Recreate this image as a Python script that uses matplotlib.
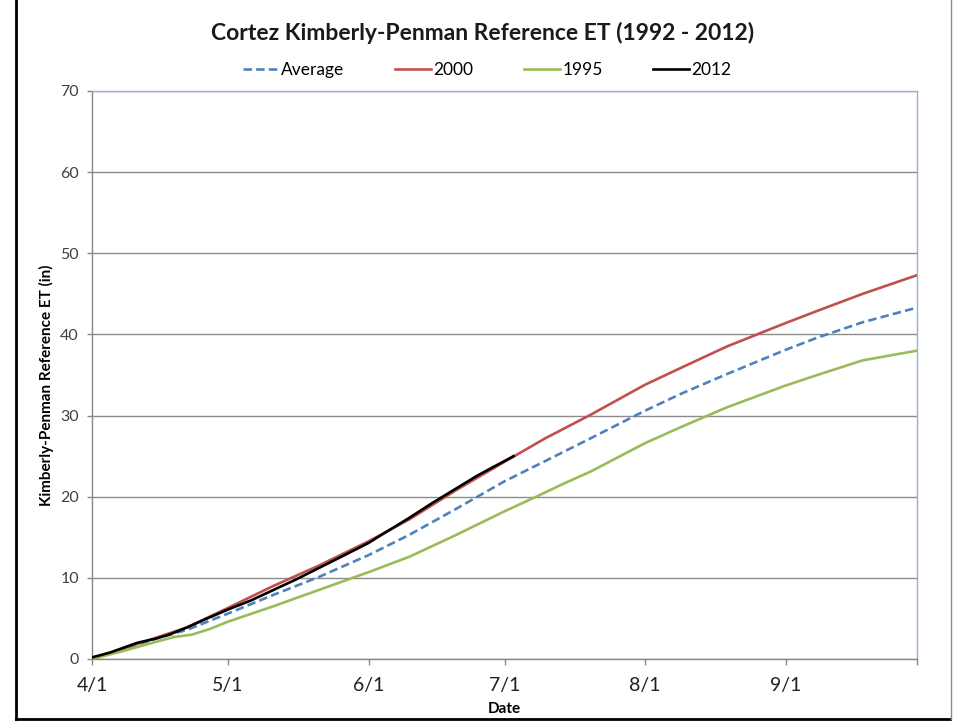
import matplotlib
matplotlib.use("Agg")
import matplotlib.pyplot as plt
import pandas as pd
from matplotlib.lines import Line2D

plt.rcParams['font.family'] = ['Lato', 'DejaVu Sans']

YEAR = "2012"

# Cumulative reference ET (inches) by date
avg_dates = ["4/1", "4/8", "4/15", "4/22", "5/1", "5/11", "5/21", "6/1", "6/10", "6/20",
             "7/1", "7/10", "7/20", "8/1", "8/9", "8/19", "9/1", "9/8", "9/18", "9/30"]
avg_vals = [0.0, 1.2, 2.5, 3.6, 5.6, 7.9, 10.1, 12.8, 15.3, 18.4,
            21.9, 24.4, 27.2, 30.6, 32.7, 35.1, 38.1, 39.6, 41.5, 43.3]

y2000_dates = avg_dates
y2000_vals = [0.0, 1.3, 2.6, 3.9, 6.3, 9.0, 11.5, 14.5, 17.2, 20.7,
              24.3, 27.2, 30.1, 33.8, 35.9, 38.5, 41.4, 42.9, 45.0, 47.3]

y1995_dates = ["4/1", "4/8", "4/15", "4/19", "4/23", "4/27", "5/1", "5/11", "5/21", "6/1",
               "6/10", "6/20", "7/1", "7/8", "7/14", "7/20", "8/1", "8/9", "8/19", "9/1",
               "9/8", "9/18", "9/30"]
y1995_vals = [0.0, 1.0, 2.1, 2.7, 3.0, 3.7, 4.6, 6.5, 8.5, 10.7,
              12.6, 15.2, 18.2, 20.0, 21.6, 23.1, 26.6, 28.6, 31.0, 33.7,
              35.0, 36.8, 38.0]

y2012_dates = ["4/1", "4/5", "4/8", "4/11", "4/15", "4/18", "4/22", "4/26", "5/1", "5/6",
               "5/11", "5/16", "5/21", "5/26", "6/1", "6/3", "6/10", "6/15", "6/20", "6/25",
               "6/30", "7/3"]
y2012_vals = [0.2, 0.8, 1.4, 2.0, 2.5, 3.0, 3.9, 4.9, 6.1, 7.2,
              8.5, 9.8, 11.2, 12.6, 14.3, 15.0, 17.4, 19.2, 20.9, 22.6,
              24.1, 25.0]

month_ticks = ["4/1", "5/1", "6/1", "7/1", "8/1", "9/1"]
y_ticks = [0, 10, 20, 30, 40, 50, 60, 70]


def to_dates(labels):
    return pd.to_datetime([f"{YEAR}/{s}" for s in labels], format="%Y/%m/%d")


fig = plt.figure(figsize=(9.61, 7.25), dpi=100)
ax = fig.add_axes([92 / 961, 66 / 725, 825 / 961, 568 / 725])

blue, red, green = "#4F81BD", "#C0504D", "#9BBB59"
lw = 1.9

ax.plot(to_dates(avg_dates), avg_vals, color=blue, lw=lw, ls=(0, (3.2, 1.6)),
        label="Average", zorder=3)
ax.plot(to_dates(y2000_dates), y2000_vals, color=red, lw=lw, label="2000", zorder=3)
ax.plot(to_dates(y1995_dates), y1995_vals, color=green, lw=lw, label="1995", zorder=3)
ax.plot(to_dates(y2012_dates), y2012_vals, color="black", lw=lw, label="2012", zorder=4)

ax.set_xlim(to_dates(["4/1"])[0], to_dates(["9/30"])[0])
ax.set_ylim(0, 70)

tick_dates = to_dates(month_ticks)
ax.set_xticks(tick_dates)
ax.set_xticklabels(month_ticks, fontsize=14, color="#202020")
ax.set_xticks([to_dates(["9/30"])[0]], minor=True)
ax.set_yticks(y_ticks)
ax.set_yticklabels([str(v) for v in y_ticks], fontsize=11.5, color="#404040")

ax.tick_params(axis="x", which="both", direction="out", length=4, width=1,
               color="#868686", pad=9)
ax.tick_params(axis="y", direction="out", length=3.6, width=1, color="#868686", pad=5.8)

ax.grid(axis="y", color="#8C8C8C", lw=1)
ax.set_axisbelow(True)

for side in ("left", "bottom"):
    ax.spines[side].set_color("#868686")
    ax.spines[side].set_linewidth(1)
for side in ("top", "right"):
    ax.spines[side].set_color("#95B3D7")
    ax.spines[side].set_linewidth(1)

ax.set_xlabel("Date", fontsize=11, fontweight="bold", labelpad=6)
ax.set_ylabel("Kimberly-Penman Reference ET (in)", fontsize=11, fontweight="bold")
ax.yaxis.set_label_coords(-0.046, 0.482)

fig.text(483 / 961, 0.955, "Cortez Kimberly-Penman Reference ET (1992 - 2012)",
         ha="center", va="center", fontsize=16.5, fontweight="bold", color="#1a1a1a")

handles, labels = ax.get_legend_handles_labels()
fig.legend(handles, labels, loc="center", bbox_to_anchor=(487 / 961, 0.903), ncol=4,
           frameon=False, fontsize=12.5, handlelength=2.1, handletextpad=0.12,
           columnspacing=2.9)

# Outer frame lines around the chart object
fig.add_artist(Line2D([16 / 961, 16 / 961], [1.0, 6 / 725], transform=fig.transFigure,
                      color="black", lw=2))
fig.add_artist(Line2D([16 / 961, 950 / 961], [6 / 725, 6 / 725], transform=fig.transFigure,
                      color="black", lw=2))
fig.add_artist(Line2D([951 / 961, 951 / 961], [1.0, 6 / 725], transform=fig.transFigure,
                      color="#8C8C8C", lw=1))

fig.savefig("out.png", dpi=100)
